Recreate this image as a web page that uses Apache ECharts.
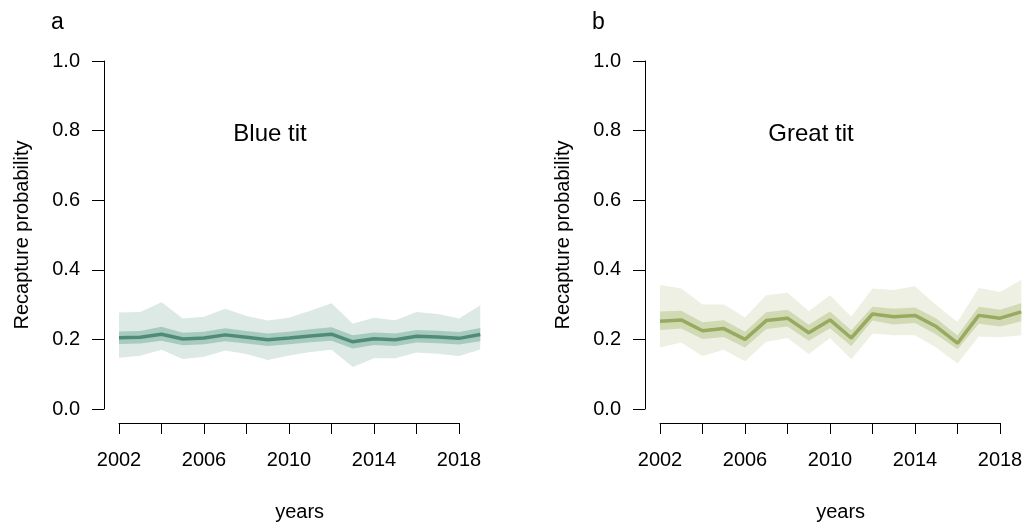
<!DOCTYPE html>
<html>
<head>
<meta charset="utf-8">
<script src="https://cdn.jsdelivr.net/npm/echarts@6/dist/echarts.min.js"></script>
<style>
html,body{margin:0;padding:0;background:#fff;}
#chart{width:1026px;height:523px;}
</style>
</head>
<body>
<div id="chart"></div>
<script>
// ---- data ----
const years = [2002,2003,2004,2005,2006,2007,2008,2009,2010,2011,2012,2013,2014,2015,2016,2017,2018,2019];
const xLabels = [2002,2006,2010,2014,2018];

const blueMean    = [0.205,0.206,0.215,0.201,0.204,0.213,0.206,0.199,0.204,0.210,0.215,0.193,0.202,0.199,0.209,0.207,0.203,0.214];
const blueOuterLo = [0.147,0.153,0.170,0.144,0.150,0.168,0.158,0.141,0.154,0.164,0.170,0.121,0.146,0.146,0.162,0.159,0.152,0.171];
const blueOuterHi = [0.277,0.279,0.307,0.260,0.265,0.288,0.267,0.254,0.262,0.282,0.304,0.245,0.262,0.255,0.279,0.273,0.260,0.298];
const blueInnerLo = [0.187,0.188,0.196,0.183,0.186,0.195,0.188,0.181,0.186,0.192,0.196,0.174,0.184,0.181,0.191,0.189,0.185,0.195];
const blueInnerHi = [0.223,0.224,0.236,0.219,0.222,0.232,0.224,0.217,0.222,0.229,0.235,0.212,0.220,0.217,0.227,0.225,0.221,0.233];

const greatMean    = [0.252,0.256,0.225,0.231,0.200,0.254,0.261,0.219,0.256,0.204,0.273,0.265,0.269,0.237,0.189,0.269,0.261,0.279];
const greatOuterLo = [0.177,0.191,0.152,0.170,0.137,0.193,0.204,0.158,0.204,0.143,0.217,0.212,0.212,0.177,0.131,0.208,0.206,0.212];
const greatOuterHi = [0.356,0.346,0.300,0.300,0.263,0.327,0.334,0.281,0.327,0.265,0.346,0.342,0.353,0.298,0.250,0.348,0.336,0.371];
const greatInnerLo = [0.227,0.231,0.201,0.207,0.177,0.230,0.237,0.196,0.232,0.181,0.254,0.243,0.247,0.214,0.172,0.245,0.237,0.252];
const greatInnerHi = [0.280,0.282,0.249,0.255,0.222,0.278,0.285,0.242,0.280,0.226,0.294,0.288,0.292,0.260,0.211,0.294,0.285,0.304];

// ---- styling ----
const FONT = '"Liberation Sans", Arial, Helvetica, sans-serif';
const PX_PER_YEAR = 21.25;
const panels = [
  {left:119, mean:blueMean, oLo:blueOuterLo, oHi:blueOuterHi, iLo:blueInnerLo, iHi:blueInnerHi,
   outer:'#dce9e5', inner:'#a9cbbf', line:'#4f8c78'},
  {left:660, mean:greatMean, oLo:greatOuterLo, oHi:greatOuterHi, iLo:greatInnerLo, iHi:greatInnerHi,
   outer:'#edf0e2', inner:'#d1dab4', line:'#97aa5f'}
];

function diff(hi, lo){ return hi.map((h,i)=>+(h-lo[i]).toFixed(4)); }

const grid = [], xAxis = [], yAxis = [], series = [];
// axis grids (0,1): visible R-style axes spanning the tick range only
panels.forEach((p, k) => {
  grid.push({left:p.left, top:61, width:16*PX_PER_YEAR, height:348, outerBoundsMode:'none', containLabel:false});
  xAxis.push({
    type:'value', gridIndex:k, min:2002, max:2018, interval:2, offset:14,
    axisLine:{show:true, onZero:false, lineStyle:{color:'#000', width:1}},
    axisTick:{show:true, length:11, lineStyle:{color:'#000'}},
    axisLabel:{customValues:xLabels, margin:27, color:'#000', fontSize:20, fontFamily:FONT, formatter:v=>String(v)},
    splitLine:{show:false}
  });
  yAxis.push({
    type:'value', gridIndex:k, min:0, max:1, interval:0.2, offset:15,
    axisLine:{show:true, onZero:false, lineStyle:{color:'#000', width:1}},
    axisTick:{show:true, length:12, lineStyle:{color:'#000'}},
    axisLabel:{margin:24, color:'#000', fontSize:20, fontFamily:FONT, formatter:v=>v.toFixed(1)},
    splitLine:{show:false},
    name:'Recapture probability', nameLocation:'middle', nameGap:72,
    nameTextStyle:{color:'#000', fontSize:20, fontFamily:FONT}
  });
});
// data grids (2,3): category axis over all years (only its name is shown)
panels.forEach((p, k) => {
  const g = k + 2;
  grid.push({left:p.left, top:61, width:(years.length-1)*PX_PER_YEAR, height:348, outerBoundsMode:'none', containLabel:false});
  xAxis.push({type:'category', gridIndex:g, data:years.map(String), boundaryGap:false, offset:14,
    axisLine:{show:false, onZero:false}, axisTick:{show:false}, axisLabel:{show:false}, splitLine:{show:false},
    name:'years', nameLocation:'middle', nameGap:79,
    nameTextStyle:{color:'#000', fontSize:20, fontFamily:FONT}});
  yAxis.push({type:'value', gridIndex:g, min:0, max:1, show:false});
  const common = {type:'line', xAxisIndex:g, yAxisIndex:g, symbol:'none', silent:true, z:2};
  series.push(Object.assign({}, common, {stack:'outer'+k, data:p.oLo, lineStyle:{opacity:0}}));
  series.push(Object.assign({}, common, {stack:'outer'+k, data:diff(p.oHi,p.oLo), lineStyle:{opacity:0},
    areaStyle:{color:p.outer, opacity:1}}));
  series.push(Object.assign({}, common, {stack:'inner'+k, data:p.iLo, lineStyle:{opacity:0}, z:3}));
  series.push(Object.assign({}, common, {stack:'inner'+k, data:diff(p.iHi,p.iLo), lineStyle:{opacity:0}, z:3,
    areaStyle:{color:p.inner, opacity:1}}));
  series.push(Object.assign({}, common, {data:p.mean, z:4, lineStyle:{color:p.line, width:3.5}}));
});

const tStyle = {fontSize:24, fontWeight:'normal', color:'#000', fontFamily:FONT};
const title = [
  {text:'a', left:46, top:6, textStyle:Object.assign({}, tStyle, {fontSize:23})},
  {text:'b', left:587, top:6, textStyle:Object.assign({}, tStyle, {fontSize:23})},
  {text:'Blue tit', left:265, top:117, textAlign:'center', textStyle:tStyle},
  {text:'Great tit', left:806, top:117, textAlign:'center', textStyle:tStyle}
];

const chart = echarts.init(document.getElementById('chart'), null, {renderer:'canvas'});
chart.setOption({animation:false, backgroundColor:'#fff', title, grid, xAxis, yAxis, series});
</script>
</body>
</html>
